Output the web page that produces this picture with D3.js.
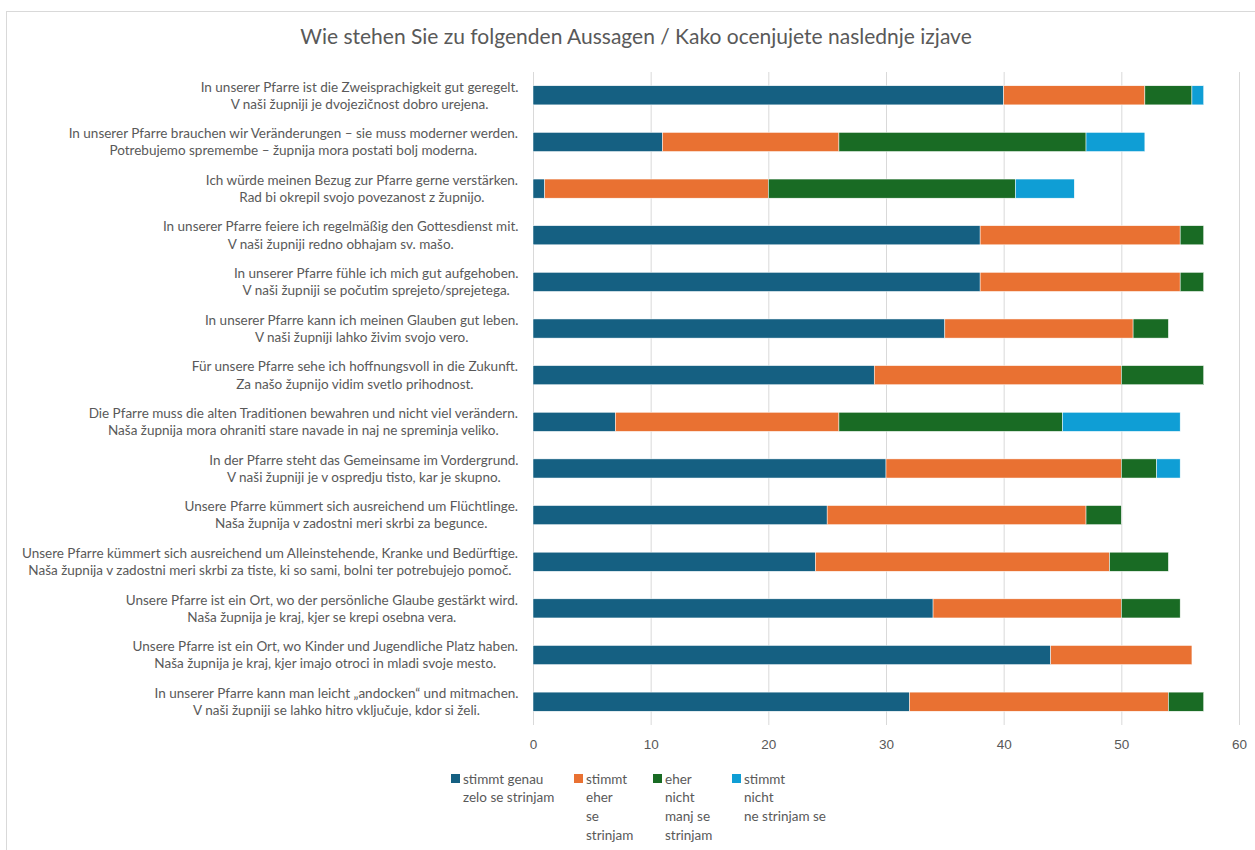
<!DOCTYPE html>
<html lang="de">
<head>
<meta charset="utf-8">
<title>Aussagen</title>
<script src="https://d3js.org/d3.v7.min.js"></script>
<style>
  body { margin: 0; background: #fff; }
  svg { display: block; font-family: Lato, "Open Sans", sans-serif; }
  .grid line { stroke: #d9d9d9; stroke-width: 1; }
  .grid path { display: none; }
  .xaxis path, .xaxis line { display: none; }
  .xaxis text { fill: #595959; font-size: 13.5px; }
  .lbl { fill: #595959; font-size: 13.5px; }
  .leg text { fill: #595959; font-size: 13.5px; }
</style>
</head>
<body>
<script>
const W = 1255, H = 850;

// statements: German line / Slovenian line
const statementsDe = [
  "In unserer Pfarre ist die Zweisprachigkeit gut geregelt.",
  "In unserer Pfarre brauchen wir Veränderungen – sie muss moderner werden.",
  "Ich würde meinen Bezug zur Pfarre gerne verstärken.",
  "In unserer Pfarre feiere ich regelmäßig den Gottesdienst mit.",
  "In unserer Pfarre fühle ich mich gut aufgehoben.",
  "In unserer Pfarre kann ich meinen Glauben gut leben.",
  "Für unsere Pfarre sehe ich hoffnungsvoll in die Zukunft.",
  "Die Pfarre muss die alten Traditionen bewahren und nicht viel verändern.",
  "In der Pfarre steht das Gemeinsame im Vordergrund.",
  "Unsere Pfarre kümmert sich ausreichend um Flüchtlinge.",
  "Unsere Pfarre kümmert sich ausreichend um Alleinstehende, Kranke und Bedürftige.",
  "Unsere Pfarre ist ein Ort, wo der persönliche Glaube gestärkt wird.",
  "Unsere Pfarre ist ein Ort, wo Kinder und Jugendliche Platz haben.",
  "In unserer Pfarre kann man leicht „andocken“ und mitmachen."
];
const statementsSl = [
  "V naši župniji je dvojezičnost dobro urejena.",
  "Potrebujemo spremembe – župnija mora postati bolj moderna.",
  "Rad bi okrepil svojo povezanost z župnijo.",
  "V naši župniji redno obhajam sv. mašo.",
  "V naši župniji se počutim sprejeto/sprejetega.",
  "V naši župniji lahko živim svojo vero.",
  "Za našo župnijo vidim svetlo prihodnost.",
  "Naša župnija mora ohraniti stare navade in naj ne spreminja veliko.",
  "V naši župniji je v ospredju tisto, kar je skupno.",
  "Naša župnija v zadostni meri skrbi za begunce.",
  "Naša župnija v zadostni meri skrbi za tiste, ki so sami, bolni ter potrebujejo pomoč.",
  "Naša župnija je kraj, kjer se krepi osebna vera.",
  "Naša župnija je kraj, kjer imajo otroci in mladi svoje mesto.",
  "V naši župniji se lahko hitro vključuje, kdor si želi."
];

const seriesKeys = ["genau", "eher", "eherNicht", "nicht"];
const seriesLabels = [
  ["stimmt genau", "zelo se strinjam"],
  ["stimmt", "eher", "se", "strinjam"],
  ["eher", "nicht", "manj se", "strinjam"],
  ["stimmt", "nicht", "ne strinjam se"]
];
const seriesColors = ["#156082", "#e97132", "#196b24", "#0f9ed5"];

const stimmtGenau     = [40, 11, 1, 38, 38, 35, 29, 7, 30, 25, 24, 34, 44, 32];
const stimmtEher      = [12, 15, 19, 17, 17, 16, 21, 19, 20, 22, 25, 16, 12, 22];
const eherNicht       = [4, 21, 21, 2, 2, 3, 7, 19, 3, 3, 5, 5, 0, 3];
const stimmtNicht     = [1, 5, 5, 0, 0, 0, 0, 10, 2, 0, 0, 0, 0, 0];

const xTicks = [0, 10, 20, 30, 40, 50, 60];

const rows = statementsDe.map((d, i) => ({
  id: i,
  genau: stimmtGenau[i],
  eher: stimmtEher[i],
  eherNicht: eherNicht[i],
  nicht: stimmtNicht[i]
}));

const stacked = d3.stack().keys(seriesKeys)(rows);

const margin = { left: 533, right: 16, top: 72, bottom: 125 };

const svg = d3.select("body").append("svg")
  .attr("width", W).attr("height", H);

// chart frame
svg.append("rect")
  .attr("x", 6.5).attr("y", 11.5)
  .attr("width", W + 10).attr("height", H + 10)
  .attr("fill", "none").attr("stroke", "#d9d9d9");

svg.append("text")
  .attr("x", 636).attr("y", 44)
  .attr("text-anchor", "middle")
  .attr("fill", "#595959")
  .attr("font-size", "21px")
  .text("Wie stehen Sie zu folgenden Aussagen / Kako ocenjujete naslednje izjave");

const x = d3.scaleLinear().domain([0, 60]).range([margin.left, 1239]);
const y = d3.scaleBand().domain(d3.range(rows.length))
  .range([margin.top, H - margin.bottom]).paddingInner(0.59).paddingOuter(0.295);

svg.append("g").attr("class", "grid")
  .attr("transform", `translate(0,${H - margin.bottom})`)
  .call(d3.axisBottom(x).tickValues(xTicks)
    .tickSize(-(H - margin.bottom - margin.top)).tickFormat(""));

svg.append("g").attr("class", "xaxis")
  .attr("transform", `translate(0,${H - margin.bottom + 2})`)
  .call(d3.axisBottom(x).tickValues(xTicks).tickSize(0).tickPadding(12));

svg.append("g")
  .selectAll("g")
  .data(stacked)
  .join("g")
  .attr("fill", (d, i) => seriesColors[i])
  .selectAll("rect")
  .data(d => d)
  .join("rect")
  .attr("x", d => x(d[0]))
  .attr("y", (d, i) => y(i))
  .attr("width", d => x(d[1]) - x(d[0]))
  .attr("height", y.bandwidth())
  .attr("stroke", "#fff")
  .attr("stroke-width", 0.5);

// category labels
const lbl = svg.append("g").selectAll("text")
  .data(rows)
  .join("text")
  .attr("class", "lbl")
  .attr("text-anchor", "middle")
  .attr("y", d => y(d.id) + y.bandwidth() / 2);

lbl.each(function(d) {
  const t = d3.select(this);
  const de = t.append("tspan").attr("dy", "-0.28em").text(statementsDe[d.id]);
  const sl = t.append("tspan").attr("dy", "1.27em").text(statementsSl[d.id]);
  const w = Math.max(de.node().getComputedTextLength(), sl.node().getComputedTextLength());
  const cx = 518 - w / 2;
  de.attr("x", cx);
  sl.attr("x", cx);
});

// legend
const legX = [451, 574, 653, 732];
const leg = svg.append("g").attr("class", "leg")
  .selectAll("g").data(seriesLabels).join("g")
  .attr("transform", (d, i) => `translate(${legX[i]},779)`);

leg.append("rect")
  .attr("x", 0).attr("y", -5).attr("width", 9).attr("height", 9)
  .attr("fill", (d, i) => seriesColors[i]);

leg.append("text")
  .selectAll("tspan").data(d => d).join("tspan")
  .attr("x", 12)
  .attr("y", (d, i) => i * 18.7)
  .attr("dy", "0.35em")
  .text(d => d);
</script>
</body>
</html>
